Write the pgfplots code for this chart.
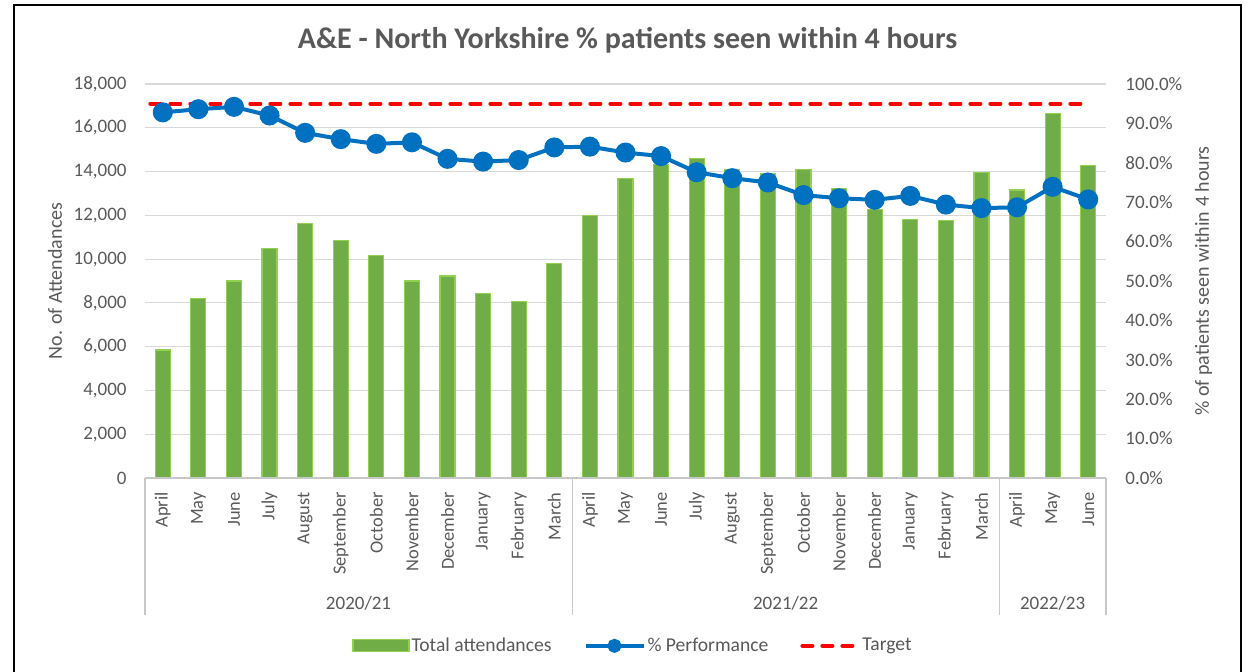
\documentclass[border=0pt]{standalone}
\usepackage{fontspec}
\setmainfont{Carlito}
\usepackage{pgfplots}
\pgfplotsset{compat=1.18}
\usepackage{pgfplotstable}
\definecolor{txt}{HTML}{595959}
\definecolor{barfill}{HTML}{70AD47}
\definecolor{baredge}{HTML}{92D050}
\definecolor{perfc}{HTML}{0070C0}
\definecolor{gridc}{HTML}{D9D9D9}
\definecolor{axisgray}{HTML}{C8C8C8}

\pgfplotsset{
  barleg/.style={legend image code/.code={\draw[##1] (0pt,-3pt) rectangle (28pt,3pt);}},
  perfleg/.style={legend image code/.code={\draw[##1, mark repeat=2, mark phase=2] plot coordinates {(0pt,0pt) (14.5pt,0pt) (29pt,0pt)};}},
  targleg/.style={legend image code/.code={\draw[##1] (1pt,0pt) -- (29pt,0pt);}},
}

\pgfplotstableread{
x att perf
0 5850 92.8
1 8200 93.6
2 9000 94.2
3 10480 92.0
4 11620 87.6
5 10860 86.0
6 10160 84.8
7 9000 85.2
8 9230 81.0
9 8420 80.3
10 8050 80.7
11 9790 83.9
12 11980 84.1
13 13670 82.6
14 14330 81.7
15 14600 77.6
16 14100 76.1
17 13920 75.0
18 14100 71.8
19 13220 71.0
20 12260 70.6
21 11800 71.6
22 11760 69.4
23 13950 68.5
24 13160 68.7
25 16660 73.9
26 14270 70.7
}\datatable

\begin{document}
\begin{tikzpicture}[x=1pt,y=1pt]
\useasboundingbox (-72.5,-97) rectangle (551,239);
\draw[line width=1.25pt] (-65.5,-120) rectangle (548,236.5);
\node[font=\fontsize{15}{17}\selectfont\bfseries, text=txt, anchor=base] at (241.25,214.85) {A\&E - North Yorkshire \% patients seen within 4 hours};

\begin{axis}[
  at={(0,0)}, anchor=south west,
  scale only axis, width=480.5pt, height=197pt,
  xmin=-0.5, xmax=26.5, ymin=0, ymax=18000,
  ytick distance=2000,
  xtick={0,...,26},
  xticklabels={April,May,June,July,August,September,October,November,December,January,February,March,April,May,June,July,August,September,October,November,December,January,February,March,April,May,June},
  ymajorgrids, grid style={gridc, line width=0.6pt},
  axis line style={draw=none}, major tick length=0pt,
  ytick pos=left, xtick pos=bottom,
  scaled y ticks=false,
  /pgf/number format/1000 sep={,},
  /pgf/number format/assume math mode=true,
  yticklabel style={font=\fontsize{9.5}{11}\selectfont, text=txt, inner sep=0pt, xshift=-9pt},
  xticklabel style={font=\fontsize{9.2}{11}\selectfont, text=txt, inner sep=0pt, yshift=-7pt, rotate=90, anchor=east},
  ylabel={No. of Attendances},
  ylabel style={at={(axis description cs:-0.0937,0.5)}, anchor=center, font=\fontsize{10}{12}\selectfont, text=txt},
  clip=false,
]
\addplot[ybar, bar width=7.5pt, fill=barfill, draw=baredge, line width=0.6pt] table[x=x,y=att]{\datatable};
\draw[axisgray, line width=0.6pt] (axis cs:-0.5,0) -- (axis cs:26.5,0);
\draw[axisgray, line width=0.6pt] (axis cs:-0.5,0) -- ++(0pt,-68.5pt);
\draw[axisgray, line width=0.6pt] (axis cs:11.5,0) -- ++(0pt,-68.5pt);
\draw[axisgray, line width=0.6pt] (axis cs:23.5,0) -- ++(0pt,-68.5pt);
\draw[axisgray, line width=0.6pt] (axis cs:26.5,0) -- ++(0pt,-68.5pt);
\path[font=\fontsize{9.5}{11}\selectfont, text=txt] (axis cs:5.5,0) ++(0pt,-66pt) node[anchor=base] {2020/21};
\path[font=\fontsize{9.5}{11}\selectfont, text=txt] (axis cs:17.5,0) ++(0pt,-66pt) node[anchor=base] {2021/22};
\path[font=\fontsize{9.5}{11}\selectfont, text=txt] (axis cs:25,0) ++(0pt,-66pt) node[anchor=base] {2022/23};
\end{axis}

\begin{axis}[
  at={(0,0)}, anchor=south west,
  scale only axis, width=480.5pt, height=197pt,
  xmin=-0.5, xmax=26.5, ymin=0, ymax=100,
  axis y line*=right, hide x axis,
  axis line style={draw=none}, major tick length=0pt,
  ytick distance=10,
  /pgf/number format/assume math mode=true,
  yticklabel={\pgfmathprintnumber[fixed,fixed zerofill,precision=1]{\tick}\%},
  yticklabel style={font=\fontsize{9.5}{11}\selectfont, text=txt, inner sep=0pt, xshift=9.5pt},
  ylabel={\% of patients seen within 4 hours},
  ylabel style={at={(axis description cs:1.1015,0.5)}, anchor=center, font=\fontsize{10}{12}\selectfont, text=txt},
  legend style={at={(axis description cs:0.5078,-0.426)}, anchor=center, draw=none, fill=none,
    font=\fontsize{9.8}{11}\selectfont, text=txt, legend columns=3,
    /tikz/every even column/.append style={column sep=15pt}, nodes={inner sep=1pt}},
  clip=false,
]
\addlegendimage{fill=barfill, draw=baredge, line width=0.6pt, barleg}
\addlegendentry{Total attendances}
\addlegendimage{perfc, line width=2pt, mark=*, mark size=2.5pt, mark options={fill=perfc, draw=perfc, solid}, perfleg}
\addlegendentry{\% Performance}
\addlegendimage{red, line width=2pt, dash pattern=on 5pt off 5pt, line cap=round, targleg}
\addlegendentry{Target}
\addplot[red, line width=2pt, dash pattern=on 5pt off 5pt, line cap=round, forget plot] coordinates {(-0.35,95) (26,95)};
\addplot[perfc, line width=2pt, mark=*, mark size=4pt, mark options={fill=perfc, draw=perfc, solid}, forget plot] table[x=x,y=perf]{\datatable};
\end{axis}
\end{tikzpicture}
\end{document}
